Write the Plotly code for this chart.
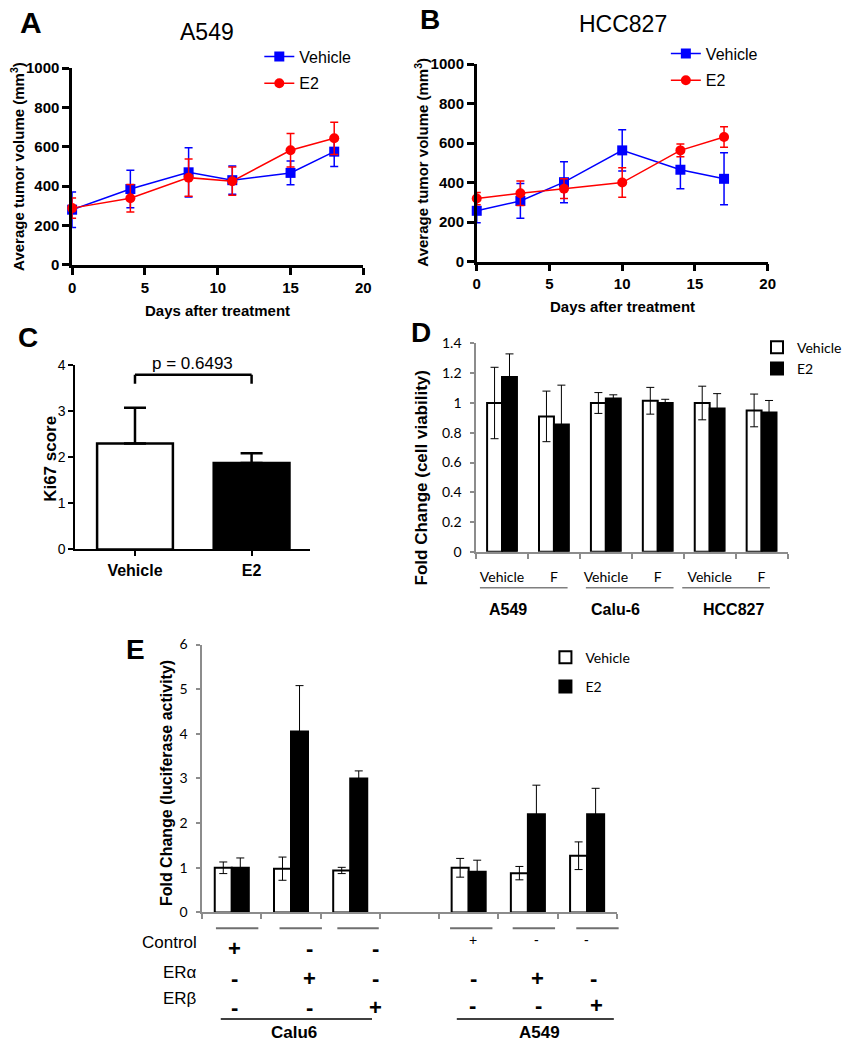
import plotly.graph_objects as go

W, H = 847, 1050


def px(x):
    return x / W


def py(y):
    return 1 - y / H


FONT = "Liberation Sans, Arial, sans-serif"
NARROW = "Liberation Sans Narrow, Arial Narrow, Liberation Sans, sans-serif"
CAL = "Lato, Carlito, Calibri, sans-serif"
BLUE = "#0000ff"
RED = "#ff0000"
GRAY = "#8c8c8c"

# ---------------- data ----------------
# Panel A (A549 xenograft)
a_days = [0, 4, 8, 11, 15, 18]
a_vehicle = [280, 385, 470, 430, 467, 575]
a_vehicle_err = [90, 95, 125, 72, 60, 75]
a_e2 = [288, 338, 443, 425, 582, 643]
a_e2_err = [52, 70, 95, 72, 85, 82]

# Panel B (HCC827 xenograft)
b_days = [0, 3, 6, 10, 14, 17]
b_vehicle = [257, 307, 402, 563, 465, 419]
b_vehicle_err = [60, 88, 104, 105, 96, 132]
b_e2 = [319, 346, 369, 400, 563, 631]
b_e2_err = [31, 62, 50, 75, 32, 52]

# Panel C (Ki67)
c_groups = ["Vehicle", "E2"]
c_ki67 = [2.3, 1.88]
c_ki67_err = [0.78, 0.21]
c_pvalue = "p = 0.6493"

# Panel D (cell viability)
d_cells = ["A549", "Calu-6", "HCC827"]
d_treat = ["Vehicle", "F"]
d_vehicle = [1.0, 0.91, 1.0, 1.015, 1.0, 0.95]
d_vehicle_err = [0.24, 0.17, 0.07, 0.09, 0.113, 0.11]
d_e2 = [1.175, 0.855, 1.03, 1.0, 0.963, 0.937]
d_e2_err = [0.155, 0.265, 0.025, 0.025, 0.1, 0.08]

# Panel E (luciferase)
e_cells = ["Calu6", "A549"]
e_constructs = ["Control", "ERα", "ERβ"]
e_vehicle = [1.0, 0.98, 0.94, 1.0, 0.88, 1.27]
e_vehicle_err = [0.13, 0.26, 0.07, 0.21, 0.15, 0.31]
e_e2 = [1.0, 4.05, 3.0, 0.91, 2.2, 2.2]
e_e2_err = [0.22, 1.03, 0.17, 0.26, 0.65, 0.58]

# ---------------- traces ----------------
fig = go.Figure()


def line_trace(x, y, err, name, color, symbol, xa, ya, leg):
    return go.Scatter(
        x=x, y=y, name=name, mode="lines+markers",
        line=dict(color=color, width=1.5),
        marker=dict(symbol=symbol, size=10, color=color),
        error_y=dict(type="data", array=err, color=color, thickness=1.5, width=4),
        xaxis=xa, yaxis=ya, legend=leg, legendgroup=leg + name,
        cliponaxis=False,
    )


fig.add_trace(line_trace(a_days, a_vehicle, a_vehicle_err, "Vehicle", BLUE, "square", "x", "y", "legend"))
fig.add_trace(line_trace(a_days, a_e2, a_e2_err, "E2", RED, "circle", "x", "y", "legend"))
fig.add_trace(line_trace(b_days, b_vehicle, b_vehicle_err, "Vehicle", BLUE, "square", "x2", "y2", "legend2"))
fig.add_trace(line_trace(b_days, b_e2, b_e2_err, "E2", RED, "circle", "x2", "y2", "legend2"))

fig.add_trace(go.Bar(
    x=c_groups, y=c_ki67, width=0.65, showlegend=False,
    marker=dict(color=["white", "black"], line=dict(color="black", width=2.5)),
    error_y=dict(type="data", symmetric=False, array=c_ki67_err, arrayminus=[0] * len(c_ki67),
                 color="black", thickness=2.5, width=11),
    xaxis="x3", yaxis="y3",
))

d_x = list(range(len(d_cells) * len(d_treat)))
d_ticktext = [t for _ in d_cells for t in d_treat]
for name, vals, errs, fill, leg in [("Vehicle", d_vehicle, d_vehicle_err, "white", "legend3"),
                                    ("E2", d_e2, d_e2_err, "black", "legend3")]:
    fig.add_trace(go.Bar(
        x=d_x, y=vals, name=name, legend=leg, legendgroup=leg + name,
        marker=dict(color=fill, line=dict(color="black", width=2)),
        error_y=dict(type="data", array=errs, color="black", thickness=1, width=4),
        xaxis="x4", yaxis="y4",
    ))

n_con = len(e_constructs)
e_x = [i + i // n_con for i in range(len(e_cells) * n_con)]
for name, vals, errs, fill, leg in [("Vehicle", e_vehicle, e_vehicle_err, "white", "legend4"),
                                    ("E2", e_e2, e_e2_err, "black", "legend4")]:
    fig.add_trace(go.Bar(
        x=e_x, y=vals, name=name, legend=leg, legendgroup=leg + name,
        marker=dict(color=fill, line=dict(color="black", width=2)),
        error_y=dict(type="data", array=errs, color="black", thickness=1, width=4),
        xaxis="x5", yaxis="y5",
    ))

# ---------------- axes ----------------
def prism_axis(domain, anchor, rng, dtick):
    return dict(
        domain=domain, anchor=anchor, range=rng, dtick=dtick, tick0=0,
        showline=True, linecolor="black", linewidth=2.5,
        ticks="outside", ticklen=7, tickwidth=2.5, tickcolor="black",
        tickfont=dict(family=FONT, size=15, color="black", weight="bold"),
        showgrid=False, zeroline=False, fixedrange=True,
    )


def excel_axis(domain, anchor, rng):
    return dict(
        domain=domain, anchor=anchor, range=rng,
        showline=True, linecolor=GRAY, linewidth=1.5,
        showgrid=False, zeroline=False, fixedrange=True,
        tickfont=dict(family=CAL, size=14, color="black"),
    )


layout_axes = dict(
    xaxis=prism_axis([px(70.7), px(373)], "y", [0, 20], 5),
    yaxis=prism_axis([py(260), py(60)], "x", [0, 1000], 200),
    xaxis2=prism_axis([px(490.7), px(792.7)], "y2", [0, 20], 5),
    yaxis2=prism_axis([py(256.7), py(56)], "x2", [0, 1000], 200),
    xaxis3=dict(domain=[px(74), px(318)], anchor="y3", type="category", range=[-0.512, 1.504],
                showline=True, linecolor="black", linewidth=2, ticks="outside", ticklen=5,
                tickwidth=2, tickcolor="black",
                tickfont=dict(family=FONT, size=16, color="black", weight="bold"),
                showgrid=False, zeroline=False, fixedrange=True),
    yaxis3=dict(domain=[py(549.3), py(362.3)], anchor="x3", range=[0, 4], dtick=1,
                showline=True, linecolor="black", linewidth=2, ticks="outside", ticklen=5,
                tickwidth=2, tickcolor="black",
                tickfont=dict(family=NARROW, size=14, color="black"),
                showgrid=False, zeroline=False, fixedrange=True),
)

x4 = excel_axis([px(490), px(813.3)], "y4", [-0.5, 5.5])
x4.update(tickmode="array", tickvals=d_x, ticktext=d_ticktext, ticks="", ticklabelstandoff=12,
          minor=dict(tickmode="array", tickvals=[i - 0.5 for i in range(len(d_x) + 1)],
                     ticks="outside", ticklen=5, tickwidth=1.5, tickcolor=GRAY))
y4 = excel_axis([py(551.7), py(340)], "x4", [0, 1.4])
y4.update(dtick=0.2, tick0=0, ticks="outside", ticklen=4, tickwidth=1.5, tickcolor=GRAY,
          ticklabelstandoff=6)

x5 = excel_axis([px(205.7), px(636)], "y5", [-0.5, 6.5])
x5.update(showticklabels=False, ticks="",
          minor=dict(tickmode="array", tickvals=[i - 0.5 for i in range(8)],
                     ticks="outside", ticklen=5, tickwidth=1.5, tickcolor=GRAY))
y5 = excel_axis([py(918.3), py(646)], "x5", [0, 6])
y5.update(dtick=1, tick0=0, ticks="outside", ticklen=4, tickwidth=1.5, tickcolor=GRAY,
          ticklabelstandoff=6)

layout_axes.update(xaxis4=x4, yaxis4=y4, xaxis5=x5, yaxis5=y5)

# ---------------- annotations ----------------
ann = []


def text(x, y, s, size, family=FONT, bold=False, angle=0, xanchor="center", color="black"):
    ann.append(dict(x=px(x), y=py(y), xref="paper", yref="paper", text=s, showarrow=False,
                    xanchor=xanchor, yanchor="middle", textangle=angle,
                    font=dict(family=family, size=size, color=color,
                              weight="bold" if bold else "normal")))


# panel letters
text(28, 14, "A", 30, bold=True)
text(442, 11, "B", 28, bold=True)
text(25, 334, "C", 28, bold=True)
text(433, 329, "D", 28, bold=True)
text(137, 651, "E", 28, bold=True)

# titles
text(211, 23, "A549", 23)
text(643, 15, "HCC827", 23)

# axis titles
text(14, 160, "Average tumor volume (mm<sup>3</sup>)", 15, bold=True, angle=-90)
text(222, 306, "Days after treatment", 15, bold=True)
text(433, 156, "Average tumor volume (mm<sup>3</sup>)", 15, bold=True, angle=-90)
text(642, 302, "Days after treatment", 15, bold=True)
text(48, 457, "Ki67 score", 17, bold=True, angle=-90)
text(433, 477, "Fold Change (cell viability)", 17, bold=True, angle=-90)
text(168, 787, "Fold Change (luciferase activity)", 16, bold=True, angle=-90)

# p-value
text(196, 360, c_pvalue, 17, family=NARROW)

# D group labels
for name, cx in zip(d_cells, [523, 635, 757]):
    text(cx, 610, name, 16, bold=True)

# E table
row_y_label = [949, 979, 1006]
for r, lab in enumerate(e_constructs):
    text(202, row_y_label[r], lab, 17, xanchor="right")

calu_cols = [239, 317, 386]
calu_rows = [955, 985, 1015]
a549_cols = [[487, 553, 605], [487, 554, 612], [486, 555, 615]]
a549_rows = [946, 985, 1013]
for r in range(n_con):
    for c in range(n_con):
        sign = "+" if r == c else "-"
        text(calu_cols[c], calu_rows[r], sign, 22, bold=True)
        if r == 0:
            text(a549_cols[r][c], a549_rows[r], sign, 14)
        else:
            text(a549_cols[r][c], a549_rows[r], sign, 22, bold=True)

text(301, 1040, e_cells[0], 17, bold=True)
text(556, 1040, e_cells[1], 17, bold=True)

# ---------------- shapes ----------------
shapes = []
for (x0, y0, x1, y1) in [(0, 3.6, 0, 3.8), (0, 3.8, 1, 3.8), (1, 3.8, 1, 3.6)]:
    shapes.append(dict(type="line", xref="x3", yref="y3", x0=x0, y0=y0, x1=x1, y1=y1,
                       line=dict(color="black", width=2.5)))


def hline(x0, x1, y, color, width):
    shapes.append(dict(type="line", xref="paper", yref="paper", x0=px(x0), x1=px(x1),
                       y0=py(y), y1=py(y), line=dict(color=color, width=width)))


for x0, x1 in [(494, 585), (604, 695), (704, 795)]:
    hline(x0, x1, 588.3, "#7f7f7f", 1.5)
for x0, x1 in [(220, 264), (286, 330), (346, 389), (463, 507), (528, 572), (594, 638)]:
    hline(x0, x1, 934.3, "#6f6f6f", 2)
hline(225, 382, 1026.7, "black", 1.5)
hline(470, 633, 1026.7, "black", 1.5)

# ---------------- legends ----------------
def legend(x, y, size, family, gap):
    return dict(x=px(x), y=py(y), xanchor="left", yanchor="top", bgcolor="rgba(0,0,0,0)",
                font=dict(family=family, size=size, color="black"), tracegroupgap=gap,
                itemclick=False, itemdoubleclick=False)


fig.update_layout(
    width=W, height=H, margin=dict(l=0, r=0, t=0, b=0),
    paper_bgcolor="white", plot_bgcolor="white",
    barmode="group", bargap=0.425, bargroupgap=0,
    showlegend=True,
    legend=legend(265, 31, 16, FONT, 3),
    legend2=legend(687, 28, 16, FONT, 3),
    legend3=legend(782, 328, 14, CAL, 0),
    legend4=legend(562, 643, 14, CAL, 8),
    annotations=ann, shapes=shapes,
    **layout_axes,
)

fig.write_html(
    "out.html",
    config={"displayModeBar": False},
    post_script="document.body.style.margin='0';document.body.style.overflow='hidden';",
)
